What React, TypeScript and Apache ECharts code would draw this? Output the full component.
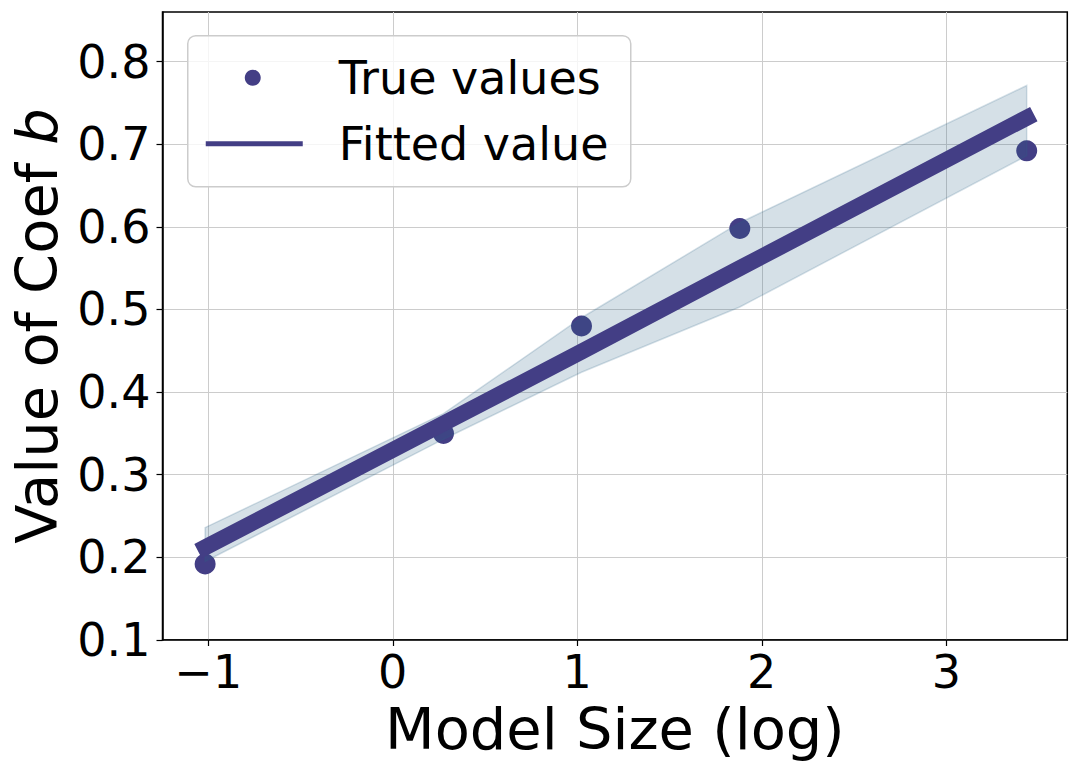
import React, { useEffect, useRef } from "react";
import * as echarts from "echarts";

const TRUE_X = [-1.017, 0.275, 1.023, 1.881, 3.436];
const TRUE_Y = [0.192, 0.35, 0.48, 0.598, 0.692];
const FIT_Y = [0.212, 0.362, 0.449, 0.55, 0.732];
const BAND_UPPER = [0.236, 0.374, 0.49, 0.605, 0.771];
const BAND_LOWER = [0.195, 0.343, 0.424, 0.503, 0.686];
const X_TICKS = [-1, 0, 1, 2, 3];
const Y_TICKS = [0.1, 0.2, 0.3, 0.4, 0.5, 0.6, 0.7, 0.8];
const LEGEND_LABELS = ["True values", "Fitted value"];

const FONT = "DejaVu Sans";
const DARK = "#433E85";
const BAND_FILL = "rgba(45,100,135,0.2)";

export default function App() {
  const ref = useRef<HTMLDivElement>(null);
  useEffect(() => {
    if (!ref.current) return;
    const chart = echarts.init(ref.current, null, { renderer: "svg" });
    const option: any = {
      animation: false,
      backgroundColor: "#ffffff",
      grid: {
        left: 162.5,
        top: 12,
        right: 11.7,
        bottom: 134,
        show: true,
        borderColor: "#000000",
        borderWidth: 1.5,
        backgroundColor: "transparent",
      },
      xAxis: {
        type: "value",
        min: -1.248,
        max: 3.656,
        axisLine: { show: true, onZero: false, lineStyle: { color: "#000", width: 1.5 } },
        axisTick: { show: true, inside: false, length: 6, customValues: X_TICKS, lineStyle: { color: "#000", width: 1.2 } },
        axisLabel: {
          customValues: X_TICKS,
          margin: 9,
          fontSize: 46,
          fontFamily: FONT,
          color: "#000",
          formatter: (v: number) => (v < 0 ? "\u2212" + Math.abs(v) : String(v)),
        },
        splitLine: { show: true, lineStyle: { color: "#cccccc", width: 1 } },
        name: "Model Size (log)",
        nameLocation: "middle",
        nameGap: 60,
        nameTextStyle: { fontSize: 57.5, fontFamily: FONT, color: "#000" },
      },
      yAxis: {
        type: "value",
        min: 0.1,
        max: 0.86,
        axisLine: { show: true, onZero: false, lineStyle: { color: "#000", width: 1.5 } },
        axisTick: { show: true, inside: false, length: 6, customValues: Y_TICKS, lineStyle: { color: "#000", width: 1.2 } },
        axisLabel: {
          customValues: Y_TICKS,
          margin: 12,
          fontSize: 46,
          fontFamily: FONT,
          color: "#000",
          formatter: (v: number) => v.toFixed(1),
        },
        splitLine: { show: true, lineStyle: { color: "#cccccc", width: 1 } },
        name: "Value of Coef {i|b}",
        nameLocation: "middle",
        nameGap: 94,
        nameRotate: 90,
        nameTextStyle: {
          fontSize: 57.5,
          fontFamily: FONT,
          color: "#000",
          rich: { i: { fontSize: 57.5, fontFamily: FONT, fontStyle: "italic", color: "#000" } },
        },
      },
      series: [
        {
          type: "scatter",
          name: LEGEND_LABELS[0],
          data: TRUE_X.map((x, i) => [x, TRUE_Y[i]]),
          symbol: "circle",
          symbolSize: 21,
          itemStyle: { color: DARK, opacity: 1 },
          z: 2,
          silent: true,
        },
        {
          type: "custom",
          name: "band",
          silent: true,
          z: 3,
          data: [[TRUE_X[0], BAND_LOWER[0]]],
          renderItem: (_params: any, api: any) => {
            const upper = TRUE_X.map((x, i) => api.coord([x, BAND_UPPER[i]]));
            const lower = TRUE_X.map((x, i) => api.coord([x, BAND_LOWER[i]])).reverse();
            return {
              type: "polygon",
              shape: { points: upper.concat(lower) },
              style: { fill: BAND_FILL, stroke: BAND_FILL, lineWidth: 1.5 },
            };
          },
        },
        {
          type: "line",
          name: LEGEND_LABELS[1],
          data: TRUE_X.map((x, i) => [x, FIT_Y[i]]),
          showSymbol: false,
          symbol: "none",
          lineStyle: { color: DARK, width: 16, cap: "square", join: "miter" },
          z: 4,
          silent: true,
        },
      ],
      graphic: [
        {
          type: "group",
          left: 187,
          top: 35,
          z: 100,
          children: [
            {
              type: "rect",
              z: 100,
              shape: { x: 0, y: 0, width: 443, height: 151, r: 8 },
              style: { fill: "rgba(255,255,255,0.8)", stroke: "#cccccc", lineWidth: 1.5 },
            },
            {
              type: "circle",
              z: 101,
              shape: { cx: 65, cy: 42, r: 8 },
              style: { fill: DARK },
            },
            {
              type: "line",
              z: 101,
              shape: { x1: 18, y1: 108, x2: 115, y2: 108 },
              style: { stroke: DARK, lineWidth: 5 },
            },
            {
              type: "text",
              z: 101,
              x: 151,
              y: 42,
              style: {
                text: LEGEND_LABELS[0],
                fontSize: 46,
                fontFamily: FONT,
                fill: "#000",
                verticalAlign: "middle",
                align: "left",
              },
            },
            {
              type: "text",
              z: 101,
              x: 151,
              y: 108,
              style: {
                text: LEGEND_LABELS[1],
                fontSize: 46,
                fontFamily: FONT,
                fill: "#000",
                verticalAlign: "middle",
                align: "left",
              },
            },
          ],
        },
      ],
    };
    chart.setOption(option);
    return () => chart.dispose();
  }, []);
  return (
    <div
      ref={ref}
      style={{ position: "fixed", left: 0, top: 0, width: 1079, height: 774, background: "#fff" }}
    />
  );
}
